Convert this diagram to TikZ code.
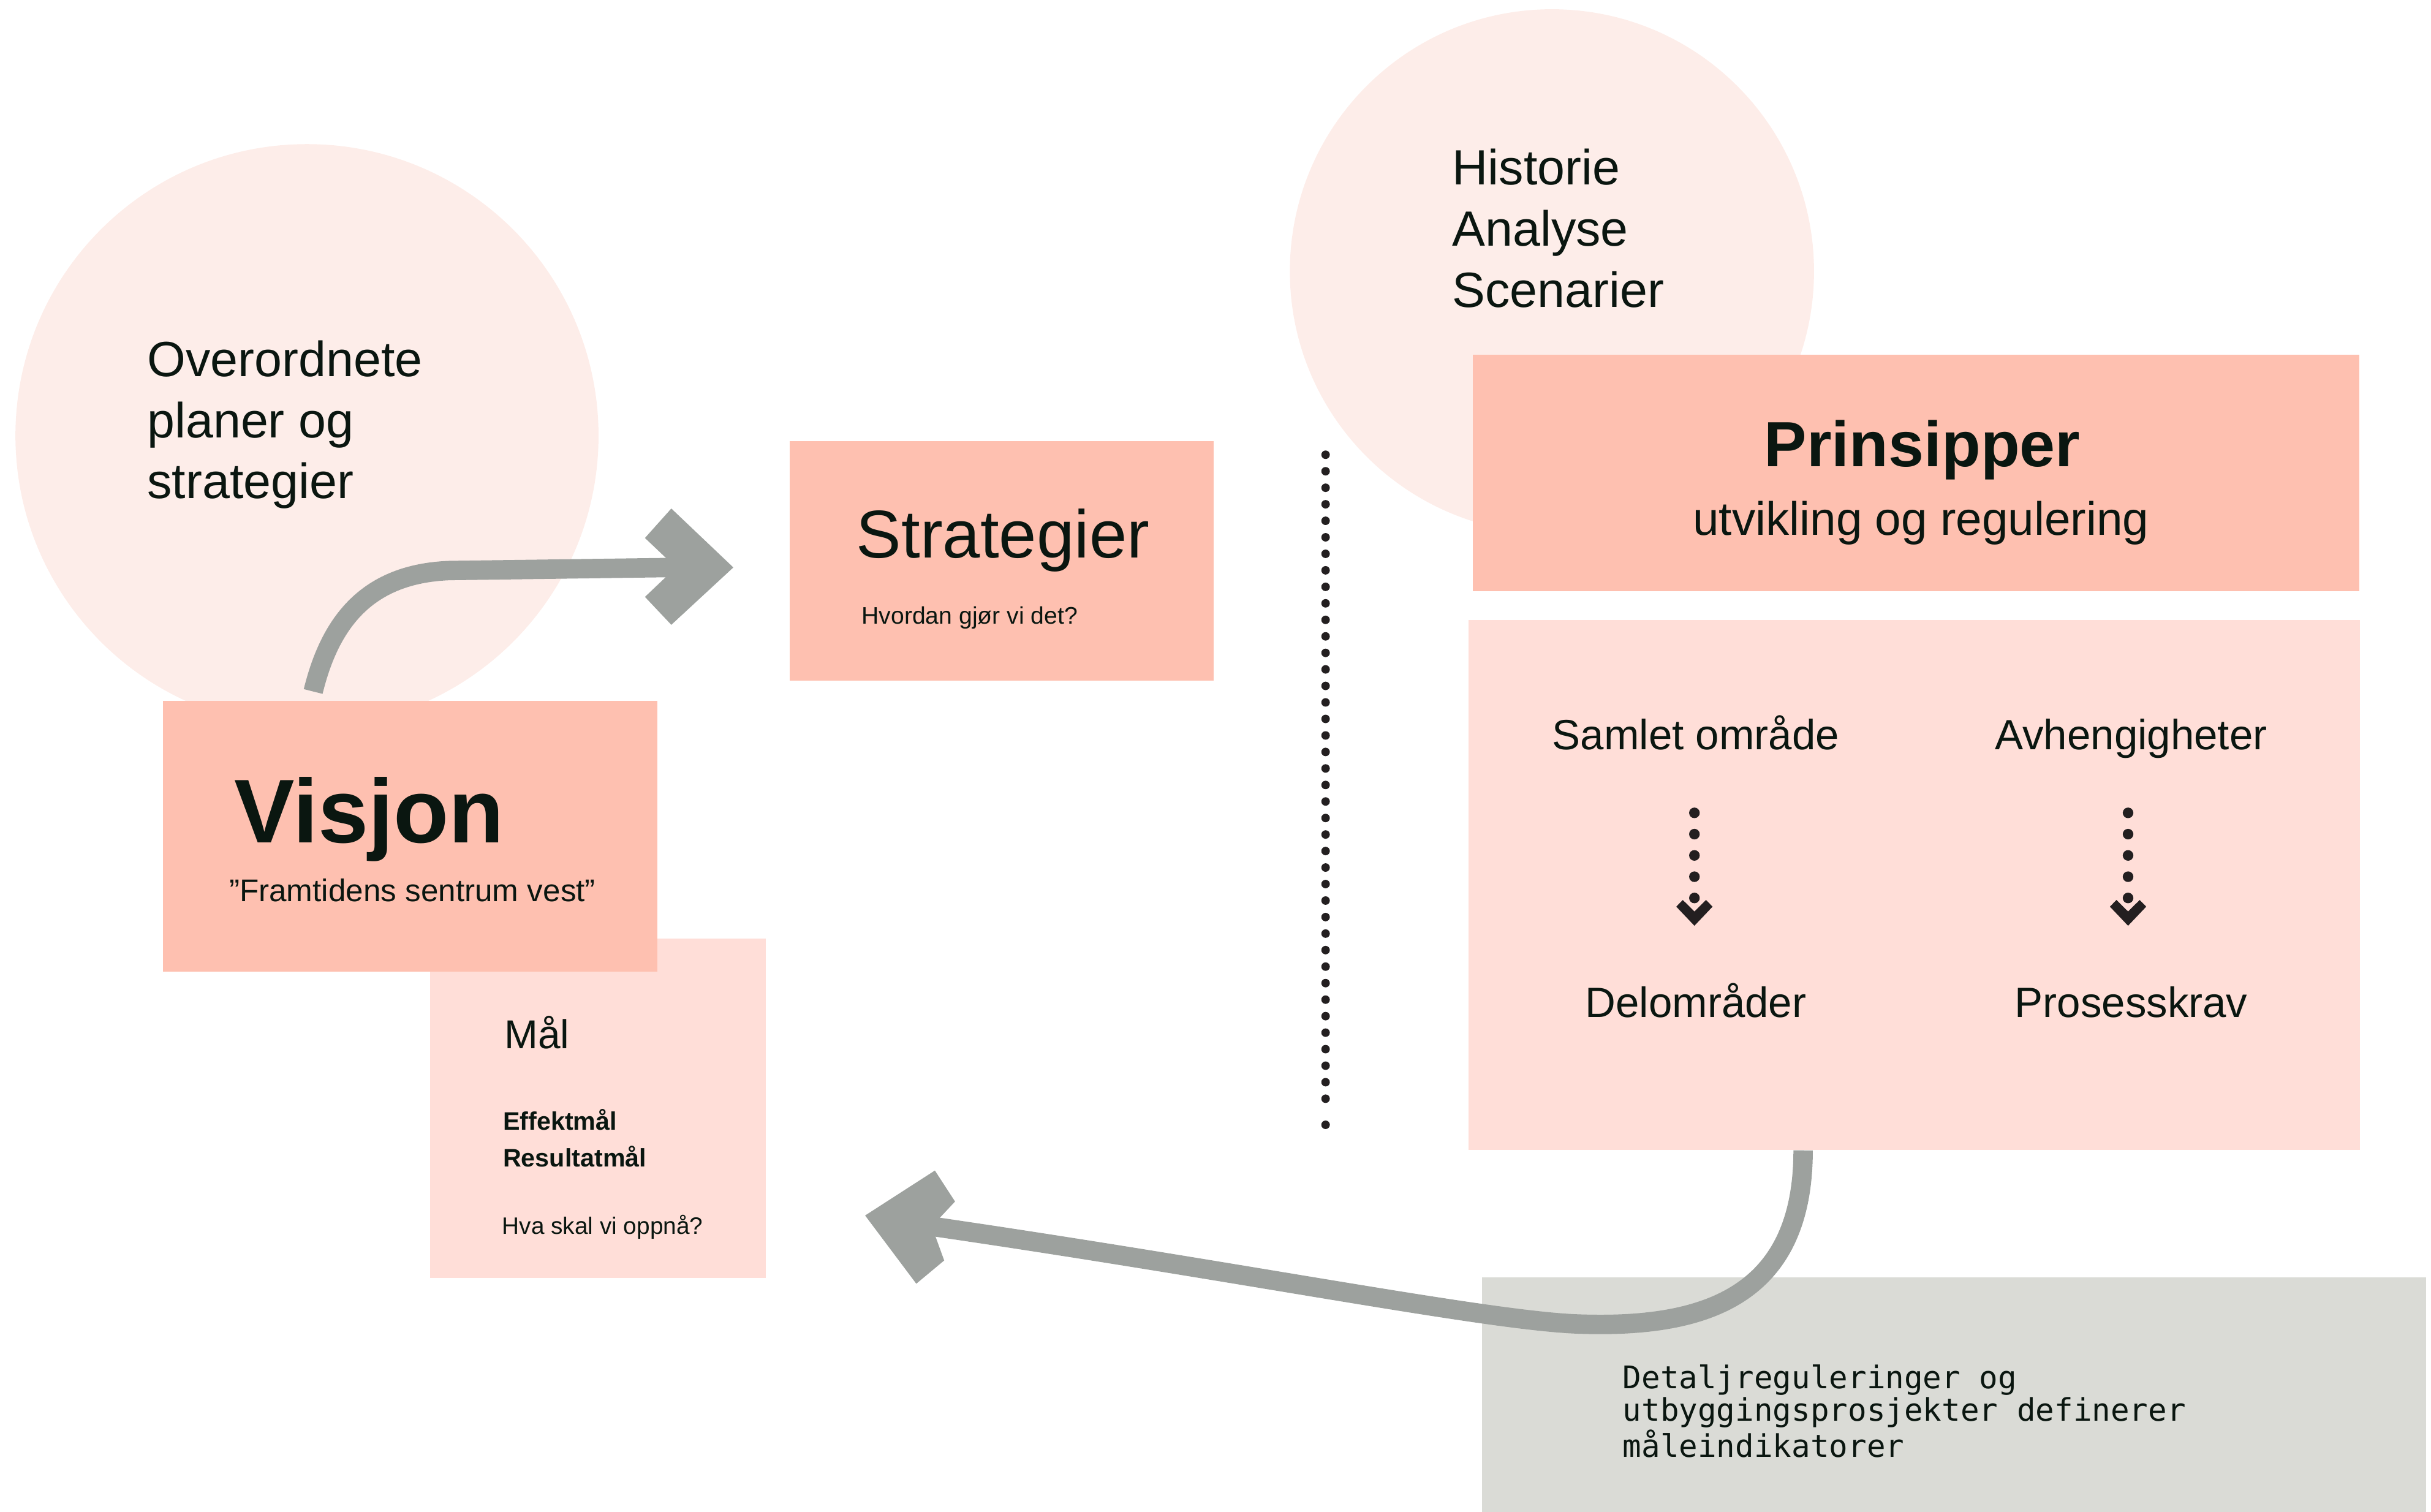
\documentclass[tikz,border=0pt]{standalone}
\usepackage{fontspec}
\setmainfont{Liberation Sans}
\newfontfamily\monof{DejaVu Sans Mono}
\usetikzlibrary{fit}
\definecolor{circfill}{RGB}{253,237,233}
\definecolor{salmon}{RGB}{254,192,176}
\definecolor{pinklight}{RGB}{255,222,216}
\definecolor{arrowgray}{RGB}{157,161,158}
\definecolor{boxgray}{RGB}{218,219,214}
\definecolor{ink}{RGB}{10,22,16}
\definecolor{dotink}{RGB}{35,31,32}
\newcommand\setfs[2]{\fontsize{#1}{#2}\selectfont}
\begin{document}
\begin{tikzpicture}[x=0.025cm,y=-0.025cm,
  bubble/.style={circle, fill=circfill, inner sep=0, outer sep=0, minimum size=#1},
  panel/.style={rectangle, fill=#1, inner sep=0, outer sep=0},
  txt/.style={inner sep=0, outer sep=0, text=ink},
  flow/.style={draw=arrowgray, line width=8.9pt},
  headfill/.style={fill=arrowgray},
  dotline/.style={draw=dotink, line cap=round, line width=#1},
]
\useasboundingbox (0,0) rectangle (1568,975);

% background bubbles
\node[bubble=9.4cm] (circL) at (198,281) {};
\node[bubble=8.45cm] (circR) at (1001,175) {};

% panels
\node[panel=pinklight, fit={(277.3,605.2) (494.1,824.1)}] (maal) {};
\node[panel=salmon, fit={(105,452) (424,626.6)}] (visjon) {};
\node[panel=salmon, fit={(509.5,284.5) (782.9,439)}] (strat) {};
\node[panel=salmon, fit={(949.8,228.6) (1521.6,381.3)}] (prins) {};
\node[panel=pinklight, fit={(947,399.7) (1522,741.6)}] (omr) {};
\node[panel=boxgray, fit={(956,824) (1565,976)}] (detalj) {};

% upper arrow: Visjon -> Strategier
\coordinate (upS) at (202,446);
\coordinate (upE) at (436,366);
\draw[flow] (upS) .. controls (213,401) and (237,370) .. (290,368) -- (upE);
\fill[headfill] (473,366) -- (433,328) -- (416,347) -- (upE) -- (416,385) -- (433,403) -- cycle;

% lower arrow: Prinsipper panel -> Mål
\coordinate (loS) at (1163,742);
\coordinate (loE) at (601,791);
\draw[flow] (loS) .. controls (1163,836) and (1100,857) .. (1018,854)
  .. controls (960,852) and (800,820) .. (loE);
\fill[headfill] (558,784) -- (603,755) -- (616,775) -- (loE) -- (609,813) -- (591,828) -- cycle;

% vertical dotted separator
\coordinate (sepT) at (855,293.3);
\coordinate (sepB) at (855,719.2);
\coordinate (sepEnd) at (855,725.5);
\draw[dotline=3.9pt, dash pattern=on 0pt off 7.574pt] (sepT) -- (sepB);
\fill[dotink] (sepEnd) circle[radius=2.75];

% texts (multi-line nodes: base anchor = last line's baseline)
\node[txt, anchor=base west, align=left, font=\setfs{22.7}{27.95}] (ovtxt) at (95,321.5)
  {Overordnete\\planer og\\strategier};
\node[txt, anchor=base west, align=left, font=\setfs{22.7}{28}] (histtxt) at (936.7,198)
  {Historie\\Analyse\\Scenarier};

\node[txt, anchor=base west, font=\bfseries\setfs{41.5}{48}] (visT) at (151.2,543.4) {Visjon};
\node[txt, anchor=base west, font=\setfs{14.4}{17}] (visQ) at (147.8,581.6) {”Framtidens sentrum vest”};

\node[txt, anchor=base west, font=\setfs{18.5}{22}] (maalT) at (325.3,676.4) {Mål};
\node[txt, anchor=base west, align=left, font=\bfseries\setfs{11.6}{16.9}] (maalG) at (324.5,752.7) {Effektmål\\Resultatmål};
\node[txt, anchor=base west, font=\setfs{10.9}{13}] (maalQ) at (323.9,796.2) {Hva skal vi oppnå?};

\node[txt, anchor=base west, font=\setfs{31}{36}] (stratT) at (552.4,359.9) {Strategier};
\node[txt, anchor=base west, font=\setfs{11}{13}] (stratQ) at (555.8,402.4) {Hvordan gjør vi det?};

\node[txt, anchor=base, font=\bfseries\setfs{29.3}{34}] (prinT) at (1239.8,301) {Prinsipper};
\node[txt, anchor=base, font=\setfs{21.5}{25}] (prinS) at (1239,345.3) {utvikling og regulering};

\node[txt, anchor=base, font=\setfs{19.4}{23}] (samlet) at (1093.8,483.6) {Samlet område};
\node[txt, anchor=base, font=\setfs{19.4}{23}] (avh) at (1374.6,483.6) {Avhengigheter};
\node[txt, anchor=base, font=\setfs{19.4}{23}] (delomr) at (1093.8,656) {Delområder};
\node[txt, anchor=base, font=\setfs{19.4}{23}] (proses) at (1374.6,656) {Prosesskrav};

\node[txt, anchor=base west, align=left, font=\monof\setfs{14.3}{15}] (monotxt) at (1046.7,940)
  {Detaljreguleringer og\\utbyggingsprosjekter definerer\\måleindikatorer};

% small dotted arrows
\coordinate (dA1) at (1092.9,524.3);
\coordinate (dA2) at (1092.9,579.2);
\coordinate (dB1) at (1372.6,524.3);
\coordinate (dB2) at (1372.6,579.2);
\draw[dotline=4.87pt, dash pattern=on 0pt off 9.76pt] (dA1) -- (dA2);
\draw[dotline=4.87pt, dash pattern=on 0pt off 9.76pt] (dB1) -- (dB2);
\fill[dotink] (1081.2,584.8) -- (1085.4,580.5) -- (1092.9,587.9) -- (1100.4,580.5) -- (1104.6,584.8) -- (1092.9,597.1) -- cycle;
\fill[dotink] (1360.9,584.8) -- (1365.1,580.5) -- (1372.6,587.9) -- (1380.1,580.5) -- (1384.3,584.8) -- (1372.6,597.1) -- cycle;
\end{tikzpicture}
\end{document}
